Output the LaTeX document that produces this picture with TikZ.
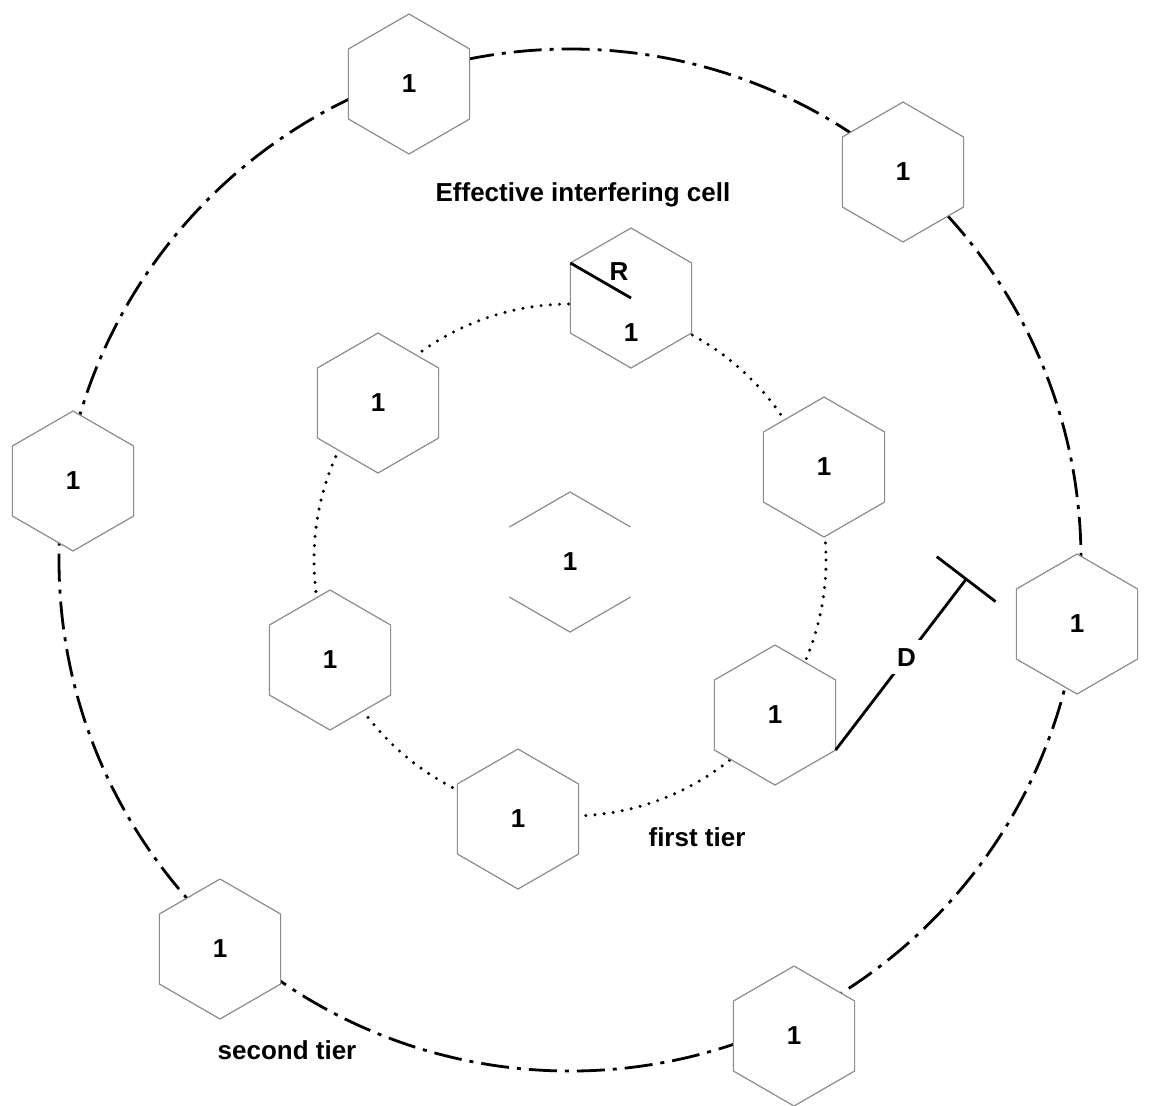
\documentclass[tikz,border=0pt]{standalone}
\usepackage{fontspec}
\setmainfont{Liberation Sans}
\usetikzlibrary{shapes.geometric, arrows.meta, calc}

\begin{document}
\begin{tikzpicture}[
  x=0.5pt, y=-0.5pt,
  font=\bfseries\fontsize{13}{15}\selectfont,
  line join=round,
  cell/.style={
    regular polygon, regular polygon sides=6, shape border rotate=30,
    minimum size=70pt, draw=black!45, line width=0.6pt, fill=white,
    inner sep=0pt, outer sep=0pt
  },
  celledge/.style={draw=black!45, line width=0.6pt},
  secondtier/.style={line width=1.4pt, dash pattern=on 14pt off 4pt on 2pt off 4pt},
  firsttier/.style={line width=1.7pt, line cap=round, dash pattern=on 0pt off 4.6pt},
  measure/.style={line width=1.4pt, draw=black},
  tag/.style={inner sep=0pt}
]
\useasboundingbox (0,0) rectangle (1149,1105);
\fill[white] (0,0) rectangle (1149,1105);
\coordinate (ctr) at (570,560);
% the two tiers
\draw[firsttier] (ctr) circle[radius=256];
\draw[secondtier] (ctr) circle[radius=511];
% centre cell
\node[cell, draw=none] (c0) at (570,562) {1};
\draw[celledge] (c0.150) -- (c0.90) -- (c0.30)
                (c0.210) -- (c0.270) -- (c0.330);
% first tier
\node[cell] (f1) at (631,298)  {};
\node[cell] (f2) at (378,403)  {1};
\node[cell] (f3) at (824,467)  {1};
\node[cell] (f4) at (775,715)  {1};
\node[cell] (f5) at (518,819)  {1};
\node[cell] (f6) at (330,660)  {1};
\node[tag] (f1lab) at ([yshift=-17.5pt]f1.center) {1};
% second tier
\node[cell] (s1) at (409,84)   {1};
\node[cell] (s2) at (903,172)  {1};
\node[cell] (s3) at (1077,624) {1};
\node[cell] (s4) at (794,1036) {1};
\node[cell] (s5) at (220,949)  {1};
\node[cell] (s6) at (73,481)   {1};
% R and D
\draw[measure] (f1.150) -- node[pos=0.8, above=1pt] (rlab) {R} (f1.center);
\coordinate (dEnd) at (967,578);
\draw[measure, -{Bar[width=37pt]}] (f4.330)
  -- node[pos=0.54, fill=white, inner sep=4pt] (dlab) {D} (dEnd);
% texts
\node[tag] (eic) at (583,195)  {Effective interfering cell};
\node[tag] (ft)  at (697,837)  {first tier};
\node[tag] (st)  at (287,1050) {second tier};
\end{tikzpicture}
\end{document}
